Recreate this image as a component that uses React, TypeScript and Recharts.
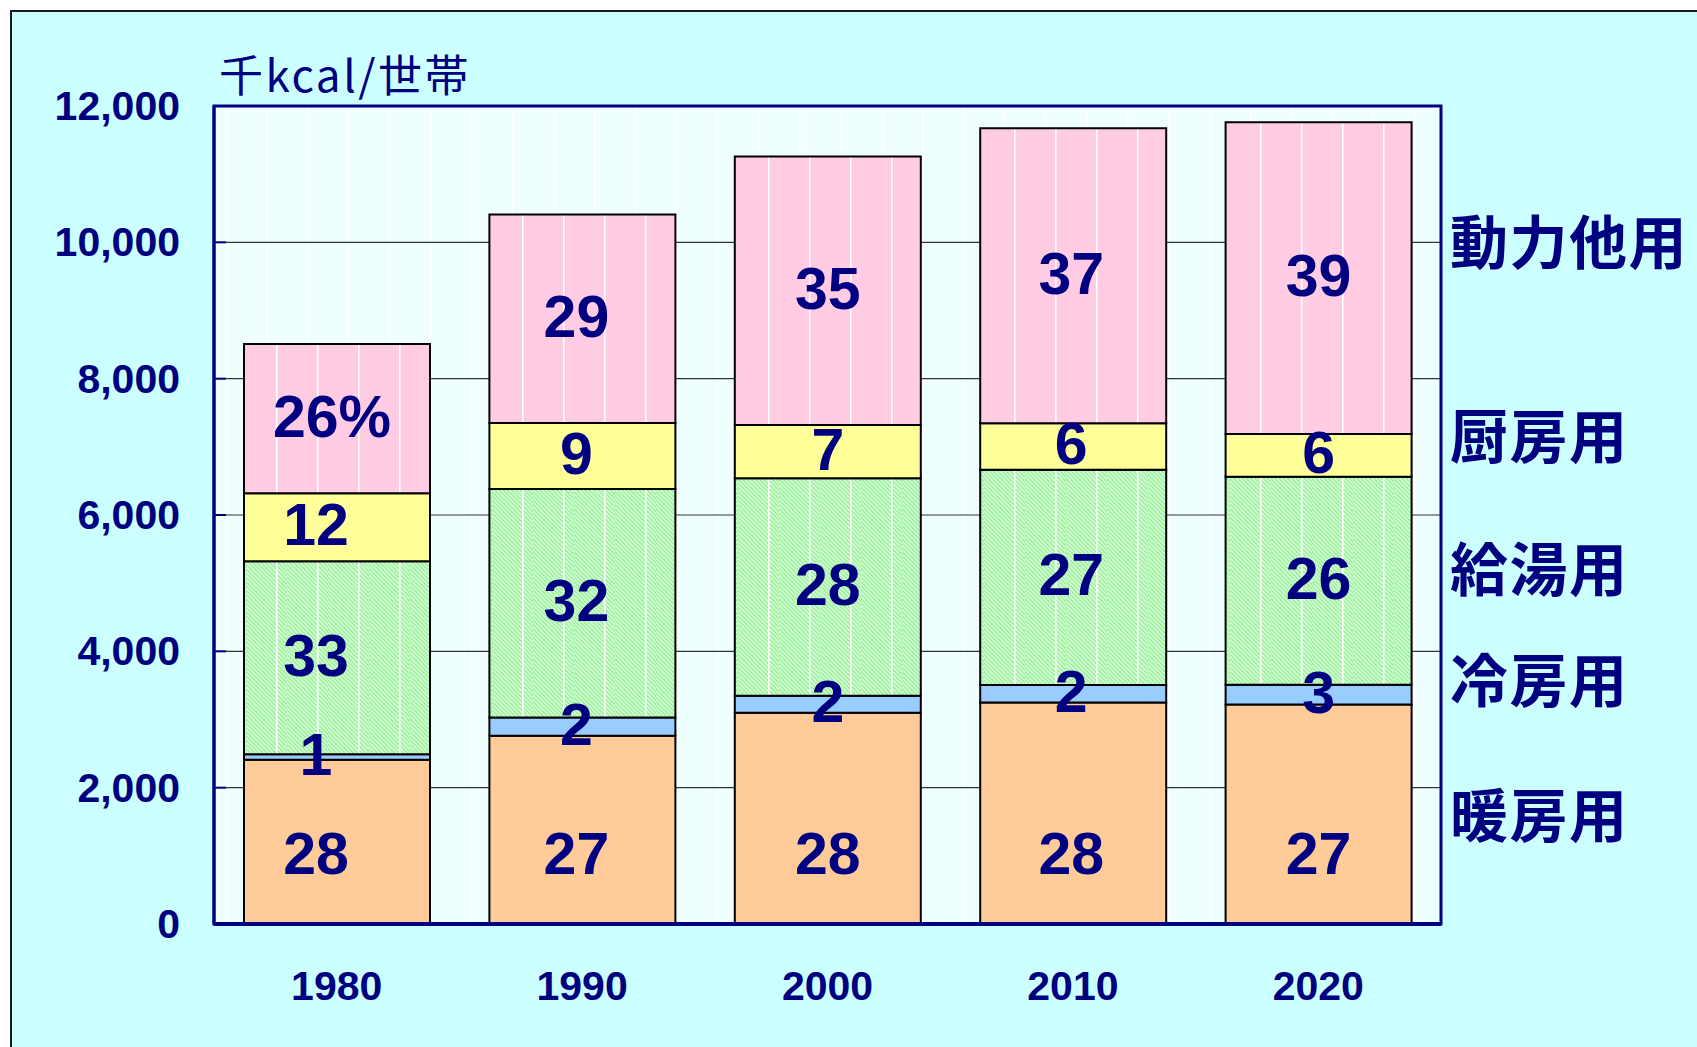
import React from "react";
import {
  BarChart,
  Bar,
  XAxis,
  YAxis,
  CartesianGrid,
  LabelList,
  ReferenceArea,
} from "recharts";

// ---- data ----
const years = ["1980", "1990", "2000", "2010", "2020"];
const heating = [2410, 2760, 3100, 3250, 3220];
const cooling = [80, 270, 250, 255, 290];
const hotWater = [2830, 3350, 3190, 3160, 3050];
const kitchen = [1000, 970, 780, 680, 630];
const power = [2190, 3060, 3940, 4330, 4570];

const heatingPct = ["28", "27", "28", "28", "27"];
const coolingPct = ["1", "2", "2", "2", "3"];
const hotWaterPct = ["33", "32", "28", "27", "26"];
const kitchenPct = ["12", "9", "7", "6", "6"];
const powerPct = ["26%", "29", "35", "37", "39"];

const yTicks = [0, 2000, 4000, 6000, 8000, 10000, 12000];
const unitLabel = "千kcal/世帯";
const seriesNames = ["動力他用", "厨房用", "給湯用", "冷房用", "暖房用"];

const data = years.map((year, i) => ({
  year,
  heating: heating[i],
  cooling: cooling[i],
  hotWater: hotWater[i],
  kitchen: kitchen[i],
  power: power[i],
  heatingPct: heatingPct[i],
  coolingPct: coolingPct[i],
  hotWaterPct: hotWaterPct[i],
  kitchenPct: kitchenPct[i],
  powerPct: powerPct[i],
}));

// ---- style ----
const NAVY = "#000080";
const W = 1697;
const H = 1047;
const NUM_FONT = "'Liberation Sans', Arial, sans-serif";
const CJK_FONT = "'Noto Sans CJK JP', 'Noto Sans', sans-serif";
const LABEL_DX = [-21, -6, 0, -2, 0];

const makeLabel = (bottomAnchored: boolean, powerSeries = false) => (props: any) => {
  const { x, y, width, height, value, index } = props;
  const dx = powerSeries ? (index === 0 ? -5 : LABEL_DX[index]) : LABEL_DX[index];
  const cx = Number(x) + Number(width) / 2 + dx;
  const cy = bottomAnchored
    ? Number(y) + Number(height) - 70
    : Number(y) + Number(height) / 2 - 2;
  return (
    <text
      x={cx}
      y={cy}
      textAnchor="middle"
      dominantBaseline="central"
      fill={NAVY}
      fontFamily={NUM_FONT}
      fontWeight="bold"
      fontSize={59}
    >
      {value}
    </text>
  );
};

const YTick = (props: any) => {
  const { x, y, payload } = props;
  return (
    <g>
      <line x1={x + 34} x2={x + 46} y1={y} y2={y} stroke={NAVY} strokeWidth={2} />
      <text
        x={x}
        y={y}
        textAnchor="end"
        dominantBaseline="central"
        fill={NAVY}
        fontFamily={NUM_FONT}
        fontWeight="bold"
        fontSize={41}
      >
        {Number(payload.value).toLocaleString("en-US")}
      </text>
    </g>
  );
};

const XTick = (props: any) => {
  const { x, y, payload } = props;
  return (
    <text
      x={x}
      y={y + 54}
      textAnchor="middle"
      dominantBaseline="central"
      fill={NAVY}
      fontFamily={NUM_FONT}
      fontWeight="bold"
      fontSize={41}
    >
      {payload.value}
    </text>
  );
};

const rightLabelTops = [209, 403, 536, 647, 782];

export default function App() {
  return (
    <div
      style={{
        position: "absolute",
        left: 0,
        top: 0,
        width: W,
        height: H,
        overflow: "hidden",
        background: "#ffffff",
      }}
    >
      <div
        style={{
          position: "absolute",
          left: 10,
          top: 10,
          width: W + 20,
          height: H + 20,
          border: "2px solid #1a1a1a",
          background: "#CCFFFF",
        }}
      />
      <div style={{ position: "absolute", left: 0, top: 0 }}>
        <BarChart
          width={W}
          height={H}
          data={data}
          margin={{ top: 106, right: 256, bottom: 43, left: 14 }}
        >
          <defs>
            <pattern id="bgPat" width="41" height="20" patternUnits="userSpaceOnUse">
              <rect width="41" height="20" fill="#EFFFFF" />
              <rect x="20" width="1.5" height="20" fill="#ffffff" />
            </pattern>
            <pattern
              id="greenHatch"
              width="3"
              height="3"
              patternUnits="userSpaceOnUse"
              patternTransform="rotate(-45)"
            >
              <rect width="3" height="3" fill="#DDFFDD" />
              <rect width="1.5" height="3" fill="#95EE95" />
            </pattern>
            <pattern id="greenFill" width="41" height="30" patternUnits="userSpaceOnUse">
              <rect width="41" height="30" fill="url(#greenHatch)" />
              <rect x="30" width="1.6" height="30" fill="#ffffff" />
            </pattern>
            <pattern id="pinkFill" width="41" height="30" patternUnits="userSpaceOnUse">
              <rect width="41" height="30" fill="#FFCCE3" />
              <rect x="30" width="1.6" height="30" fill="#ffffff" />
            </pattern>
          </defs>
          <CartesianGrid
            vertical={false}
            stroke="#333333"
            strokeWidth={1.2}
            fill="url(#bgPat)"
            fillOpacity={1}
          />
          <ReferenceArea
            y1={0}
            y2={12000}
            fill="none"
            fillOpacity={0}
            stroke={NAVY}
            strokeWidth={3}
            ifOverflow="visible"
          />
          <XAxis
            dataKey="year"
            height={80}
            axisLine={{ stroke: NAVY, strokeWidth: 4 }}
            tickLine={false}
            tick={<XTick />}
          />
          <YAxis
            width={200}
            domain={[0, 12000]}
            ticks={yTicks}
            interval={0}
            axisLine={{ stroke: NAVY, strokeWidth: 3 }}
            tickLine={false}
            tickSize={0}
            tickMargin={34}
            tick={<YTick />}
          />
          <Bar dataKey="heating" stackId="a" barSize={186} fill="#FFCC99" stroke="#000" strokeWidth={2} isAnimationActive={false}>
            <LabelList dataKey="heatingPct" content={makeLabel(true)} />
          </Bar>
          <Bar dataKey="cooling" stackId="a" barSize={186} fill="#99CCFF" stroke="#000" strokeWidth={2} isAnimationActive={false}>
            <LabelList dataKey="coolingPct" content={makeLabel(false)} />
          </Bar>
          <Bar dataKey="hotWater" stackId="a" barSize={186} fill="url(#greenFill)" stroke="#000" strokeWidth={2} isAnimationActive={false}>
            <LabelList dataKey="hotWaterPct" content={makeLabel(false)} />
          </Bar>
          <Bar dataKey="kitchen" stackId="a" barSize={186} fill="#FFFF99" stroke="#000" strokeWidth={2} isAnimationActive={false}>
            <LabelList dataKey="kitchenPct" content={makeLabel(false)} />
          </Bar>
          <Bar dataKey="power" stackId="a" barSize={186} fill="url(#pinkFill)" stroke="#000" strokeWidth={2} isAnimationActive={false}>
            <LabelList dataKey="powerPct" content={makeLabel(false, true)} />
          </Bar>
        </BarChart>
      </div>
      <div
        style={{
          position: "absolute",
          left: 219,
          top: 44,
          fontFamily: CJK_FONT,
          fontSize: 44,
          letterSpacing: 2.5,
          color: NAVY,
          lineHeight: "58px",
          whiteSpace: "nowrap",
        }}
      >
        {unitLabel}
      </div>
      {seriesNames.map((name, i) => (
        <div
          key={name}
          style={{
            position: "absolute",
            left: 1450,
            top: rightLabelTops[i],
            fontFamily: CJK_FONT,
            fontWeight: "bold",
            fontSize: 58,
            letterSpacing: 1.5,
            color: NAVY,
            lineHeight: "60px",
            whiteSpace: "nowrap",
          }}
        >
          {name}
        </div>
      ))}
    </div>
  );
}
